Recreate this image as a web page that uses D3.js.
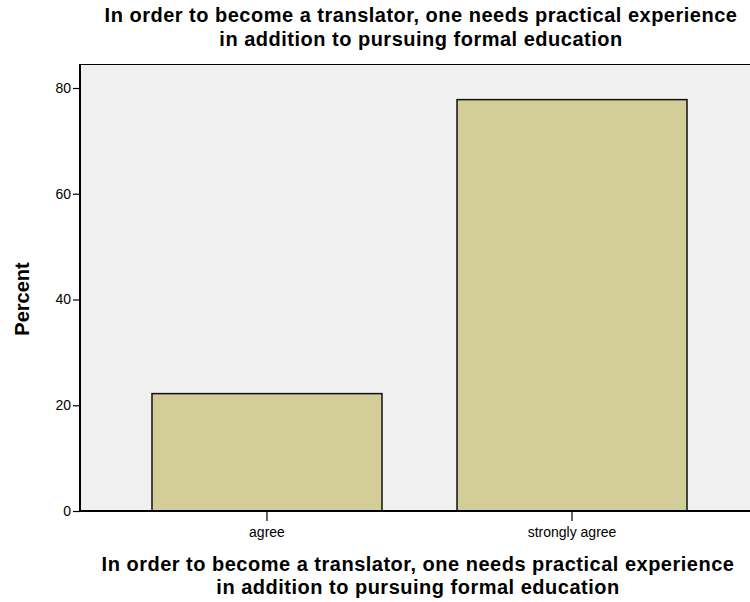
<!DOCTYPE html>
<html>
<head>
<meta charset="utf-8">
<script src="https://cdn.jsdelivr.net/npm/d3@7"></script>
<style>
  html, body { margin: 0; padding: 0; background: #fff; }
  svg { display: block; }
  text { font-family: "Liberation Sans", Arial, sans-serif; }
</style>
</head>
<body>
<svg id="chart" width="750" height="602"></svg>
<script>
const categories = ["agree", "strongly agree"];
const percentValues = [22.2, 77.8];
const yTicks = [0, 20, 40, 60, 80];
const titleLines = ["In order to become a translator, one needs practical experience", "in addition to pursuing formal education"];
const xTitleLines = ["In order to become a translator, one needs practical experience", "in addition to pursuing formal education"];
const yTitle = "Percent";

const svg = d3.select("#chart");
const pL = 80, pR = 759, pT = 64, pB = 511;

const x = d3.scaleBand().domain(categories).range([pL, pR]).paddingInner(0.246).paddingOuter(0.236);
const y = d3.scaleLinear().domain([0, 80]).range([pB, 88]);

// plot background
svg.append("rect").attr("x", pL).attr("y", pT).attr("width", pR - pL).attr("height", pB - pT)
  .attr("fill", "#f0f0f0");
svg.append("line").attr("x1", pL).attr("x2", pR).attr("y1", pT + 0.5).attr("y2", pT + 0.5)
  .attr("stroke", "#000").attr("stroke-width", 1);

// bars
svg.selectAll("rect.bar").data(percentValues).join("rect").attr("class", "bar")
  .attr("x", (d, i) => x(categories[i]))
  .attr("y", d => y(d))
  .attr("width", x.bandwidth())
  .attr("height", d => pB - y(d))
  .attr("fill", "#d3ce97")
  .attr("stroke", "#111")
  .attr("stroke-width", 1.5);

// y axis
const yAxis = svg.append("g").attr("transform", `translate(${pL},0)`)
  .call(d3.axisLeft(y).tickValues(yTicks).tickSize(7).tickSizeOuter(0));
yAxis.select(".domain").remove();
yAxis.selectAll(".tick line").attr("stroke", "#000").attr("stroke-width", 1.2);
yAxis.selectAll(".tick text").attr("font-size", 14).attr("fill", "#000").attr("x", -9)
  .attr("font-family", "'Liberation Sans', Arial, sans-serif");
svg.append("line").attr("x1", pL).attr("x2", pL).attr("y1", pT).attr("y2", pB + 1)
  .attr("stroke", "#000").attr("stroke-width", 2);

// x axis
const xAxis = svg.append("g").attr("transform", `translate(0,${pB})`)
  .call(d3.axisBottom(x).tickSize(10).tickSizeOuter(0));
xAxis.select(".domain").remove();
xAxis.selectAll(".tick line").attr("stroke", "#000").attr("stroke-width", 1.2);
xAxis.selectAll(".tick text").attr("font-size", 14).attr("fill", "#000").attr("y", 16)
  .attr("font-family", "'Liberation Sans', Arial, sans-serif");
svg.append("line").attr("x1", pL - 1).attr("x2", pR).attr("y1", pB).attr("y2", pB)
  .attr("stroke", "#000").attr("stroke-width", 2);

// titles
const cx = 421;
svg.append("text").attr("text-anchor", "middle").attr("font-size", 20).attr("font-weight", "bold")
  .attr("letter-spacing", 0.5)
  .selectAll("tspan").data(titleLines).join("tspan").attr("x", cx).attr("y", (d, i) => 22 + i * 24).text(d => d);

const cx2 = 418;
svg.append("text").attr("text-anchor", "middle").attr("font-size", 20).attr("font-weight", "bold")
  .attr("letter-spacing", 0.5)
  .selectAll("tspan").data(xTitleLines).join("tspan").attr("x", cx2).attr("y", (d, i) => 571 + i * 23).text(d => d);

svg.append("text").attr("transform", "translate(29,299) rotate(-90)").attr("text-anchor", "middle")
  .attr("font-size", 20).attr("font-weight", "bold").text(yTitle);
</script>
</body>
</html>
